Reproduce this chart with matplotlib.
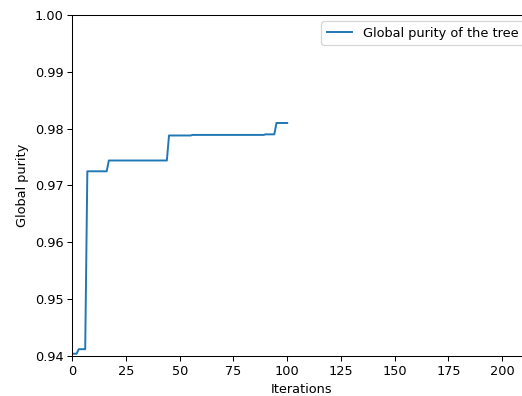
import matplotlib
matplotlib.use('Agg')
import matplotlib.pyplot as plt

# corners of the step-shaped purity curve (iteration, purity)
iterations = [0, 2, 3, 6, 7, 16, 17, 44, 45, 55, 56, 89, 90, 94, 95, 100]
purity = [0.9404, 0.9404, 0.9412, 0.9412, 0.9725, 0.9725, 0.9744, 0.9744,
          0.9788, 0.9788, 0.9789, 0.9789, 0.9790, 0.9790, 0.9810, 0.9810]

W, H = 522, 396
DPI = 93
fig = plt.figure(figsize=(W / DPI, H / DPI), dpi=DPI)
# axes runs past the right edge of the picture, as in the reference
left, right, top, bottom = 72.3, 530, 15, 356
ax = fig.add_axes([left / W, (H - bottom) / H, (right - left) / W, (bottom - top) / H])

ax.plot(iterations, purity, color='#1f77b4', label='Global purity of the tree')
ax.set_xlim(0, (right - left) / 2.149)
ax.set_ylim(0.94, 1.00)
ax.set_xticks([0, 25, 50, 75, 100, 125, 150, 175, 200])
ax.set_xlabel('Iterations')
ax.set_ylabel('Global purity')
ax.legend(loc='upper right')

plt.savefig('out.png', dpi=DPI)
plt.clf()
